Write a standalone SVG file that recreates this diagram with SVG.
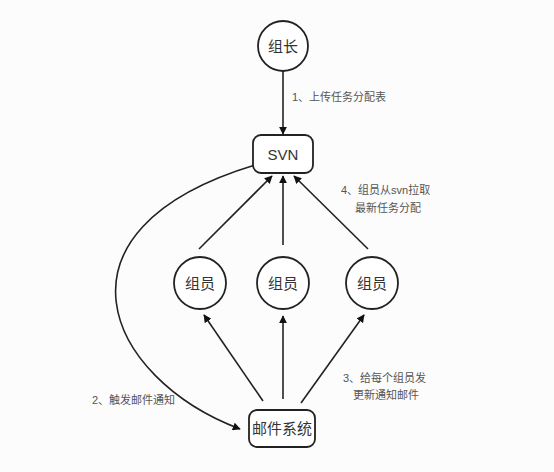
<svg xmlns="http://www.w3.org/2000/svg" width="554" height="472" viewBox="0 0 554 472">
<style>
.node{fill:#fff;stroke:#222;stroke-width:1.8}
.nt{font-family:"Liberation Sans","Noto Sans CJK SC",sans-serif;font-size:15px;fill:#333;text-anchor:middle;dominant-baseline:central}
.lbl{font-family:"Liberation Sans","Noto Sans CJK SC",sans-serif;font-size:11px;fill:#555}
.edge{fill:none;stroke:#222;stroke-width:1.6}
</style>
<defs>
<marker id="ah" viewBox="0 0 10 10" refX="9" refY="5" markerWidth="8" markerHeight="8" markerUnits="userSpaceOnUse" orient="auto">
<path d="M0,0 L10,5 L0,10 z" fill="#111"/>
</marker>
</defs>
<rect width="554" height="472" fill="#fcfcfc"/>
<g id="edges">
<path class="edge" d="M283,71 L283,134" marker-end="url(#ah)"/>
<path class="edge" d="M199,249 L272,176" marker-end="url(#ah)"/>
<path class="edge" d="M283,245 L283,176" marker-end="url(#ah)"/>
<path class="edge" d="M368,249 L294,176" marker-end="url(#ah)"/>
<path class="edge" d="M263,401 L204,315" marker-end="url(#ah)"/>
<path class="edge" d="M283,399 L283,316" marker-end="url(#ah)"/>
<path class="edge" d="M301,403 L364,315" marker-end="url(#ah)"/>
<path class="edge" d="M255,165 C40,230 105,378 240,429" marker-end="url(#ah)"/>
</g>
<g id="labels">
<text class="lbl" x="292" y="101">1、上传任务分配表</text>
<text class="lbl" x="341" y="194">4、组员从svn拉取</text>
<text class="lbl" x="355" y="212">最新任务分配</text>
<text class="lbl" x="92" y="404">2、触发邮件通知</text>
<text class="lbl" x="343" y="382">3、给每个组员发</text>
<text class="lbl" x="353" y="399">更新通知邮件</text>
</g>
<g id="zuzhang"><circle class="node" cx="283" cy="46" r="25"/><text class="nt" x="283" y="46">组长</text></g>
<g id="svn"><rect class="node" x="253" y="135" width="60" height="38" rx="8"/><text class="nt" x="283" y="154">SVN</text></g>
<g id="zuyuan1"><circle class="node" cx="200" cy="283" r="26"/><text class="nt" x="200" y="283">组员</text></g>
<g id="zuyuan2"><circle class="node" cx="283" cy="283" r="26"/><text class="nt" x="283" y="283">组员</text></g>
<g id="zuyuan3"><circle class="node" cx="372" cy="283" r="26"/><text class="nt" x="372" y="283">组员</text></g>
<g id="mail"><rect class="node" x="249" y="410" width="66" height="37" rx="8"/><text class="nt" x="282" y="428.5">邮件系统</text></g>
</svg>
